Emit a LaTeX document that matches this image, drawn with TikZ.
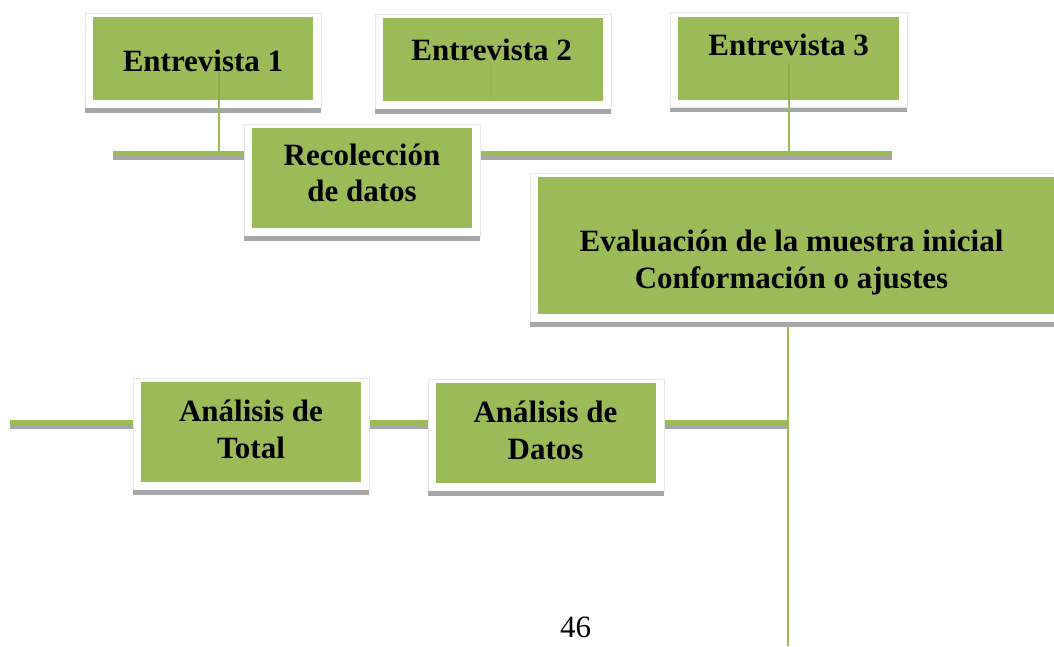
\documentclass[tikz,border=0pt]{standalone}
\usepackage{fontspec}
\setmainfont{Liberation Serif}
\usetikzlibrary{backgrounds}
\definecolor{gfill}{HTML}{9BBB59}
\definecolor{gshadow}{HTML}{A6A6A6}
\definecolor{gframe}{HTML}{E6E6E6}
\definecolor{gline}{HTML}{8CAE4A}
\newcommand{\cardframe}[1]{%
  \draw[cardframe] ([xshift=-8pt,yshift=4pt]#1.north west) rectangle ([xshift=8pt,yshift=-8pt]#1.south east);
  \fill[shadowbar] ([xshift=-8pt,yshift=-8pt]#1.south west) rectangle ([xshift=8pt,yshift=-12.5pt]#1.south east);}
\begin{document}
\begin{tikzpicture}[x=1pt,y=-1pt,
  cardframe/.style={draw=gframe, line width=0.8pt, fill=white},
  shadowbar/.style={fill=gshadow},
  greenbox/.style={fill=gfill, draw=none, inner sep=0pt, outer sep=0pt, rectangle},
  lbl/.style={font=\bfseries\fontsize{31}{36.6}\selectfont, align=center, anchor=base, inner sep=0pt},
  busgray/.style={draw=gshadow, line width=4pt},
  busgreen/.style={draw=gfill, line width=5pt},
  link/.style={draw=gfill, line width=2pt},
  innerlink/.style={draw=gline, line width=1.5pt}]
\useasboundingbox (0,0) rectangle (1054,646);
\clip (0,0) rectangle (1054,646);
% green boxes
\node[greenbox, minimum width=220pt, minimum height=83pt] (e1) at (203,58.5) {};
\node[greenbox, minimum width=220pt, minimum height=83pt] (e2) at (493,59.5) {};
\node[greenbox, minimum width=221pt, minimum height=83pt] (e3) at (788.5,58) {};
\node[greenbox, minimum width=220pt, minimum height=100pt] (rec) at (362,178) {};
\node[greenbox, minimum width=530pt, minimum height=137pt] (eva) at (803,245.5) {};
\node[greenbox, minimum width=220pt, minimum height=100pt] (at) at (251,432) {};
\node[greenbox, minimum width=220pt, minimum height=100pt] (ad) at (546,433) {};
% bus coordinates
\coordinate (b1s) at (113,153.2);
\coordinate (b1e) at (892,153.2);
\coordinate (b2s) at (10,422.2);
\coordinate (b2e) at (788,422.2);
\begin{pgfonlayer}{background}
  \draw[busgray] ([yshift=-4.5pt]b1s) -- ([yshift=-4.5pt]b1e);
  \draw[busgreen] (b1s) -- (b1e);
  \draw[busgray] ([yshift=-4.5pt]b2s) -- ([yshift=-4.5pt]b2e);
  \draw[busgreen] (b2s) -- (b2e);
  \cardframe{e1}
  \cardframe{e2}
  \cardframe{e3}
  \cardframe{rec}
  \cardframe{eva}
  \cardframe{at}
  \cardframe{ad}
\end{pgfonlayer}
% links
\coordinate (e1s) at (219,72);
\coordinate (e2s) at (490,63);
\coordinate (e2f) at (490,97);
\coordinate (e3s) at (789,63);
\coordinate (evs) at (788,326.5);
\coordinate (pgend) at (788,646);
\draw[innerlink] (e1s) -- (e1s |- e1.south);
\draw[link] (e1s |- e1.south) -- (e1s |- b1s);
\draw[gline, line width=0.8pt, opacity=0.6] (e2s) -- (e2f);
\draw[innerlink] (e3s) -- (e3s |- e3.south);
\draw[link] (e3s |- e3.south) -- (e3s |- b1s);
\draw[link, line width=2.5pt] (evs) -- (pgend);
% texts
\node[lbl] (e1t) at (203,71) {Entrevista 1};
\node[lbl] (e2t) at (491.7,60) {Entrevista 2};
\node[lbl] (e3t) at (788.7,55) {Entrevista 3};
\node[lbl] (rect) at (362,201.7) {Recolección\\de datos};
\node[lbl] (evat) at (791.5,288.3) {Evaluación de la muestra inicial\\Conformación o ajustes};
\node[lbl] (att) at (251,458.3) {Análisis de\\Total};
\node[lbl] (adt) at (545.5,459.3) {Análisis de\\Datos};
\node[font=\fontsize{31}{36}\selectfont, anchor=base, inner sep=0pt] (pg) at (575.5,637) {46};
\end{tikzpicture}
\end{document}
